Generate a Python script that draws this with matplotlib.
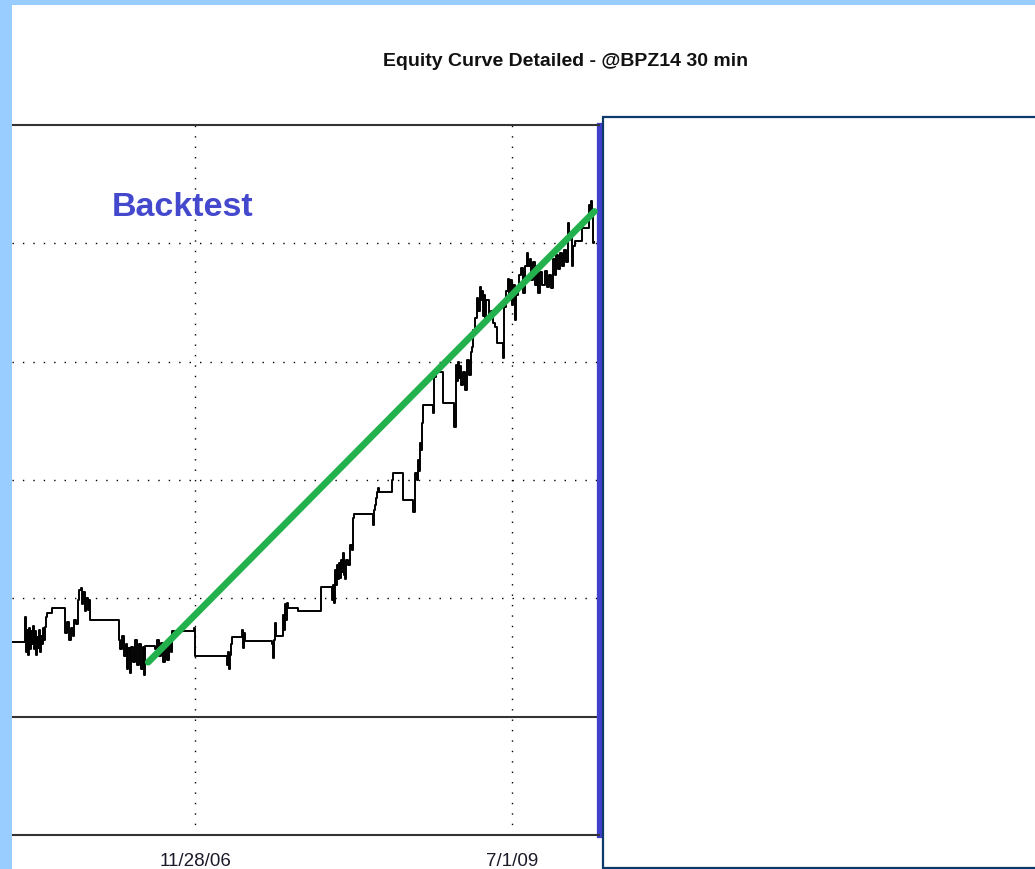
import datetime as dt
import matplotlib
matplotlib.use('Agg')
import matplotlib.pyplot as plt
from matplotlib.patches import Rectangle

START = dt.date(2005, 5, 31)
LAST_DAY = 1749     # right edge of the backtest window

# closed-trade equity curve: days since START, equity in thousands of dollars
days = [0, 36, 39, 42, 45, 48, 51, 54, 57, 60, 63, 66, 69, 72, 75, 78, 81, 84, 87, 90,
        93, 95, 98, 101, 104, 119, 158, 164, 170, 176, 182, 185, 191, 197, 200, 206, 209,
        212, 218, 221, 227, 230, 233, 319, 322, 328, 334, 340, 343, 346, 352, 355, 361,
        367, 373, 379, 385, 391, 394, 397, 427, 433, 439, 445, 451, 457, 463, 468, 474,
        477, 543, 546, 642, 645, 648, 651, 654, 657, 686, 689, 692, 695, 776, 779, 782,
        785, 788, 809, 812, 815, 818, 821, 824, 853, 922, 955, 958, 961, 964, 967, 970,
        973, 976, 979, 982, 985, 988, 991, 994, 997, 1003, 1009, 1015, 1018, 1020, 1077,
        1080, 1083, 1086, 1089, 1092, 1095, 1134, 1137, 1167, 1197, 1203, 1209, 1212,
        1215, 1217, 1220, 1223, 1226, 1256, 1259, 1265, 1286, 1319, 1325, 1328, 1331,
        1334, 1337, 1340, 1346, 1352, 1358, 1364, 1370, 1373, 1376, 1382, 1388, 1391,
        1397, 1400, 1403, 1406, 1409, 1412, 1415, 1421, 1427, 1433, 1439, 1445, 1465,
        1468, 1474, 1480, 1483, 1486, 1492, 1495, 1501, 1504, 1510, 1513, 1519, 1525,
        1531, 1536, 1539, 1545, 1548, 1555, 1561, 1567, 1570, 1576, 1582, 1588, 1594,
        1600, 1606, 1612, 1618, 1623, 1629, 1635, 1641, 1647, 1653, 1659, 1662, 1665,
        1671, 1674, 1680, 1701, 1704, 1722, 1725, 1728, 1731, 1734, 1737]
equity = [6.3, 6.3, 8.4, 5.5, 7.3, 5.2, 7.5, 5.7, 7.2, 6.1, 7.7, 5.7, 7.2, 5.2, 6.7, 5.8,
          7.3, 5.5, 6.8, 6.1, 7.5, 6.5, 7.6, 8.4, 8.8, 9.2, 7.1, 8.0, 6.5, 7.5, 6.8, 8.2,
          7.8, 9.9, 10.7, 10.9, 9.5, 10.5, 8.9, 10.0, 9.0, 9.9, 8.2, 6.5, 5.7, 6.8, 5.1,
          6.1, 4.0, 5.8, 3.7, 5.9, 4.6, 6.5, 4.4, 6.1, 4.0, 5.9, 3.5, 6.0, 5.7, 6.5, 5.1,
          6.2, 4.6, 5.9, 4.8, 6.1, 5.5, 7.2, 7.5, 5.1, 4.4, 5.5, 4.0, 5.2, 6.1, 6.7, 7.3,
          5.8, 7.1, 6.4, 6.1, 5.0, 6.5, 7.9, 6.8, 8.6, 7.3, 9.5, 8.2, 9.6, 9.2, 8.9, 11.0,
          9.9, 11.1, 9.6, 12.4, 11.1, 12.8, 11.6, 13.0, 11.7, 13.2, 12.2, 13.8, 12.0, 11.6,
          13.2, 12.8, 14.5, 14.1, 16.8, 17.1, 16.2, 17.5, 17.9, 18.5, 19.0, 19.3, 19.0,
          20.0, 20.6, 18.3, 17.3, 20.6, 20.0, 21.7, 20.8, 23.1, 22.5, 24.8, 26.3, 25.7,
          28.7, 29.1, 26.5, 24.5, 29.7, 28.4, 30.0, 28.6, 29.6, 28.0, 29.1, 27.6, 30.1,
          28.9, 30.8, 31.2, 32.7, 33.7, 35.4, 34.3, 36.3, 35.2, 36.0, 33.9, 35.6, 33.5,
          35.2, 33.9, 34.3, 33.3, 32.9, 31.6, 30.3, 34.6, 36.0, 37.0, 35.2, 36.9, 34.8,
          36.5, 33.5, 35.6, 36.0, 37.3, 37.9, 35.8, 38.1, 39.2, 38.1, 38.7, 36.9, 38.4,
          36.5, 38.1, 35.8, 37.6, 36.5, 37.7, 36.3, 37.3, 36.2, 38.7, 37.3, 39.0, 37.8,
          39.2, 38.1, 39.4, 38.4, 41.7, 40.3, 40.9, 38.1, 39.8, 40.2, 41.7, 41.3, 43.2,
          42.7, 43.6, 42.4, 40.0, 40.1]

# hand drawn trend line over the backtest
trend_days = [406, 1737]
trend_equity = [4.6, 42.7]

tick_dates = [dt.date(2006, 11, 28), dt.date(2009, 7, 1)]
tick_labels = ['11/28/06', '7/1/09']
grid_levels = [10, 20, 30, 40]

W, H = 1035, 869
DOTS = (0, (1, 6.5))


def to_dates(offsets):
    return [START + dt.timedelta(days=d) for d in offsets]


fig = plt.figure(figsize=(W / 100, H / 100), dpi=100, facecolor='white')
ax = fig.add_axes([12 / W, 1 - 835 / H, 586.5 / W, 710 / H])

ax.plot(to_dates(days), equity, color='black', lw=1.4, drawstyle='steps-post', zorder=3)
ax.plot(to_dates(trend_days), trend_equity, color='#22B14C', lw=4.8,
        solid_capstyle='round', zorder=4)

for lev in grid_levels:
    ax.axhline(lev, color='black', lw=1.0, ls=DOTS, zorder=1)
for d in tick_dates:
    ax.axvline(d, color='black', lw=1.0, ls=DOTS, zorder=1)
ax.axhline(0, color='#333333', lw=1.5, zorder=2)

ax.set_xlim(START, START + dt.timedelta(days=LAST_DAY))
ax.set_ylim(-10, 50)
ax.set_xticks(tick_dates)
ax.set_xticklabels(tick_labels, fontsize=13.5, color='#1a1a2a', family='Liberation Sans')
ax.tick_params(axis='x', length=0, pad=13)
ax.set_yticks([])

ax.spines['left'].set_visible(False)
ax.spines['top'].set_color('#333333')
ax.spines['bottom'].set_color('#333333')
ax.spines['top'].set_linewidth(1.5)
ax.spines['bottom'].set_linewidth(1.5)
ax.spines['right'].set_color('#4040CC')
ax.spines['right'].set_linewidth(3.8)

ax.text(0.29, 0.884, 'Backtest', transform=ax.transAxes, ha='center', va='center',
        fontsize=24.5, fontweight='bold', color='#4448CC', family='Liberation Sans')

fig.text(565.5 / W, 1 - 62 / H, 'Equity Curve Detailed - @BPZ14 30 min', ha='center',
         va='center', fontsize=14, fontweight='bold', color='#111111',
         family='Liberation Sans')

# empty panel on the right and the light blue window frame
fig.patches.append(Rectangle((603 / W, 1 / H), 0.5, (868 - 117) / H, transform=fig.transFigure,
                             facecolor='white', edgecolor='#0E3A6B', lw=1.6, zorder=5))
fig.patches.append(Rectangle((0, 0), 12 / W, 1, transform=fig.transFigure,
                             facecolor='#99CCFF', edgecolor='none', zorder=6))
fig.patches.append(Rectangle((0, 1 - 5 / H), 1, 5 / H, transform=fig.transFigure,
                             facecolor='#99CCFF', edgecolor='none', zorder=6))

fig.savefig('out.png', dpi=100, facecolor='white')
